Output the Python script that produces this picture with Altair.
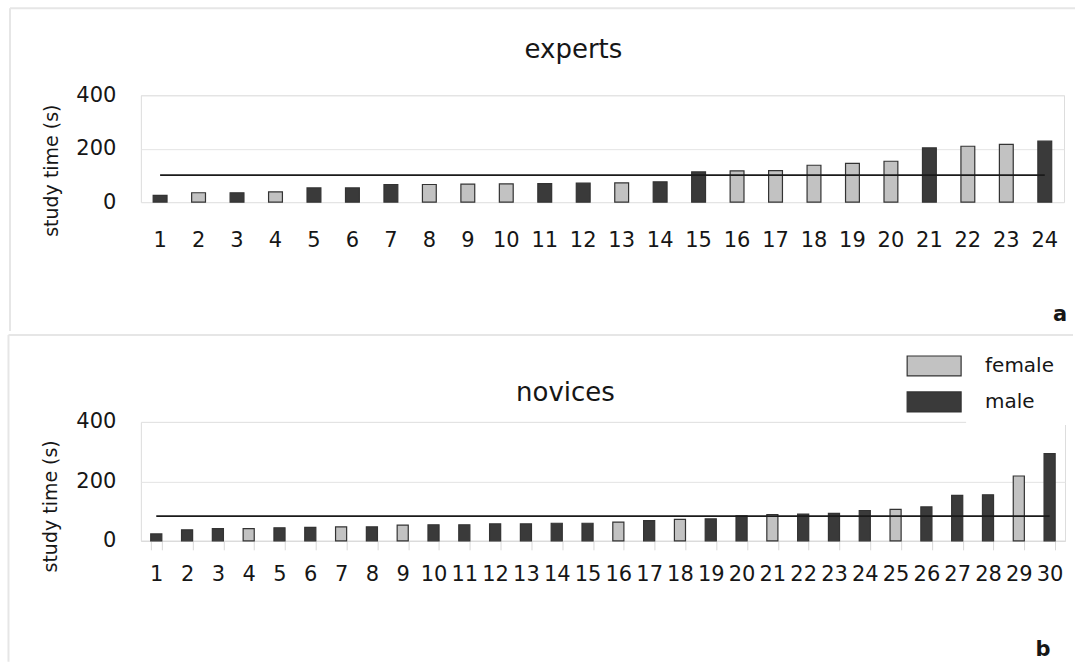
import altair as alt
import pandas as pd

# ---- data -------------------------------------------------------------
expert_ids = [str(i) for i in range(1, 25)]
expert_times = [25, 35, 35, 38, 53, 53, 66, 66, 67, 68, 69, 71,
                72, 76, 113, 117, 118, 138, 145, 153, 203, 209, 216, 228]
expert_sex = ["male", "female", "male", "female", "male", "male", "male", "female",
              "female", "female", "male", "male", "female", "male", "male", "female",
              "female", "female", "female", "female", "male", "female", "female", "male"]
expert_mean = 101

novice_ids = [str(i) for i in range(1, 31)]
novice_times = [23, 37, 41, 41, 44, 45, 47, 47, 53, 54, 54, 57, 57, 59, 59,
                63, 68, 72, 74, 84, 88, 90, 92, 102, 106, 114, 153, 155, 218, 293]
novice_sex = ["male", "male", "male", "female", "male", "male", "female", "male",
              "female", "male", "male", "male", "male", "male", "male", "female",
              "male", "female", "male", "male", "female", "male", "male", "male",
              "female", "male", "male", "male", "female", "male"]
novice_mean = 83

sex_levels = ["female", "male"]
sex_colors = ["#c2c2c2", "#3a3a3a"]

TXT = "#161616"
GRID = "#e4e4e4"
FRAME = "#e6e6e6"
FONT = "DejaVu Sans"

one_row = pd.DataFrame({"k": [0]})


def panel(ids, times, sexes, mean, name, letter, width, height,
          frame_left, frame_right, frame_bottom, title_xy, letter_xy,
          x_axis, y_axis, legend, extra=None):
    df = pd.DataFrame({"participant": ids, "time": times, "sex": sexes,
                       "mean": [mean] * len(ids)})
    base = alt.Chart(df)
    xenc = alt.X("participant:N", sort=ids,
                 scale=alt.Scale(paddingInner=0.64, paddingOuter=0.32),
                 axis=x_axis)
    bars = base.mark_bar(stroke="#333333", strokeWidth=1.2).encode(
        x=xenc,
        y=alt.Y("time:Q", scale=alt.Scale(domain=[0, 400], nice=False), axis=y_axis),
        color=alt.Color("sex:N", scale=alt.Scale(domain=sex_levels, range=sex_colors),
                        legend=legend),
    )
    mean_line = base.mark_line(color="#1a1a1a", strokeWidth=1.6).encode(
        x=alt.X("participant:N", sort=ids),
        y=alt.Y("mean:Q"),
    )
    # panel frame: top edge and left edge
    top_edge = alt.Chart(one_row).mark_rule(color=FRAME, strokeWidth=2).encode(
        x=alt.value(frame_left), x2=alt.value(frame_right), y=alt.value(-87))
    left_edge = alt.Chart(one_row).mark_rule(color=FRAME, strokeWidth=2).encode(
        x=alt.value(frame_left), y=alt.value(-87), y2=alt.value(frame_bottom))
    title = alt.Chart(one_row).mark_text(
        text=name, fontSize=26, font=FONT, color=TXT, align="center",
        baseline="alphabetic").encode(x=alt.value(title_xy[0]), y=alt.value(title_xy[1]))
    tag = alt.Chart(one_row).mark_text(
        text=letter, fontSize=21, fontWeight="bold", font=FONT, color=TXT,
        align="center", baseline="alphabetic").encode(
        x=alt.value(letter_xy[0]), y=alt.value(letter_xy[1]))
    layers = [top_edge, left_edge]
    if extra is not None:
        layers.append(extra)
    layers += [bars, mean_line, title, tag]
    return alt.layer(*layers).properties(width=width, height=height)


axis_common = dict(labelFontSize=21, labelColor=TXT, labelFont=FONT,
                   titleFont=FONT, titleColor=TXT)

expert_x_axis = alt.Axis(title=None, labelAngle=0, domain=False, ticks=False,
                         labelPadding=27, labelOverlap=False, grid=False, **axis_common)
expert_y_axis = alt.Axis(title="study time (s)", values=[0, 200, 400], domain=False,
                         ticks=False, grid=True, gridColor=GRID, gridWidth=1,
                         labelPadding=25, titleFontSize=19, titleFontWeight="normal",
                         titleX=-89, titleY=75, titleBaseline="middle", **axis_common)

novice_x_axis = alt.Axis(title=None, labelAngle=0, domain=True, domainColor="#d8d8d8",
                         ticks=True, tickColor="#d8d8d8", tickSize=9, tickBand="extent",
                         labelPadding=14, labelOverlap=False, grid=False, **axis_common)
novice_y_axis = alt.Axis(title="study time (s)", values=[0, 200, 400], domain=False,
                         ticks=False, grid=True, gridColor=GRID, gridWidth=1,
                         labelPadding=25, titleFontSize=19, titleFontWeight="normal",
                         titleX=-90, titleY=84, titleBaseline="middle", **axis_common)

sex_legend = alt.Legend(
    title=None, orient="none", legendX=766, legendY=-67, direction="vertical",
    symbolType="M-1,-1L4.4,-1L4.4,1L-1,1Z", symbolSize=400,
    symbolStrokeColor="#333333", symbolStrokeWidth=1.2, symbolOpacity=1,
    labelFontSize=20, labelFont=FONT, labelColor=TXT, labelOffset=57,
    rowPadding=10, padding=0,
)

# white patch keeping the 400 gridline clear under the legend
legend_patch = alt.Chart(one_row).mark_rect(color="white").encode(
    x=alt.value(826), x2=alt.value(930), y=alt.value(-3), y2=alt.value(3))

experts = panel(expert_ids, expert_times, expert_sex, expert_mean, "experts", "a",
                924, 107, frame_left=-131, frame_right=935, frame_bottom=236,
                title_xy=(433, -37), letter_xy=(920, 226),
                x_axis=expert_x_axis, y_axis=expert_y_axis, legend=None)

novices = panel(novice_ids, novice_times, novice_sex, novice_mean, "novices", "b",
                925, 119, frame_left=-132.5, frame_right=933, frame_bottom=240,
                title_xy=(425, -21), letter_xy=(903, 234),
                x_axis=novice_x_axis, y_axis=novice_y_axis, legend=sex_legend,
                extra=legend_patch)

chart = alt.vconcat(experts, novices, spacing=0).resolve_scale(
    color="independent"
).properties(
    padding={"left": 7, "top": 6, "right": 0, "bottom": 0},
    background="white",
).configure_view(stroke=None).configure(font=FONT)

chart.save("out.html", embed_options={"renderer": "svg", "actions": False})
